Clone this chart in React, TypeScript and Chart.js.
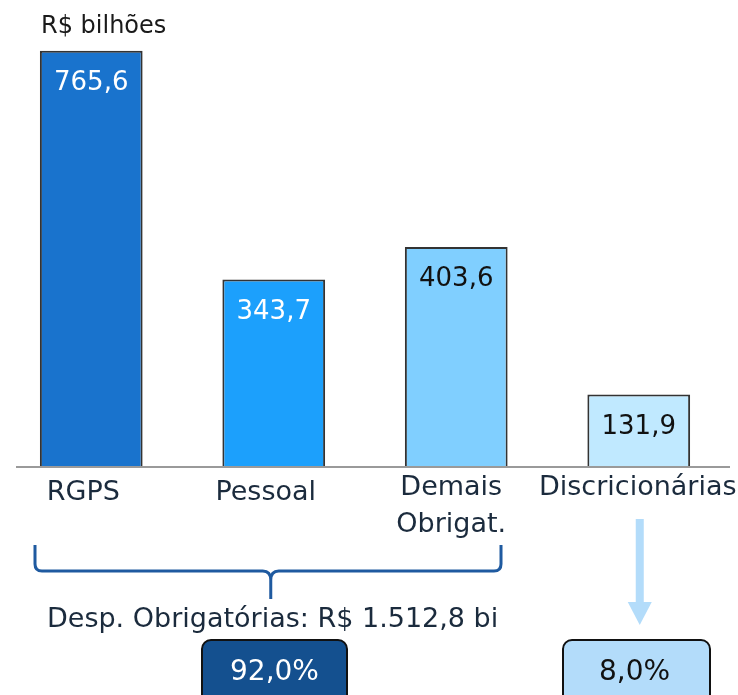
import React, { useEffect, useRef } from "react";
import { Chart, registerables } from "chart.js";

Chart.register(...registerables);

const categories = ["RGPS", "Pessoal", "Demais Obrigat.", "Discricionárias"];
const categoryLines = [["RGPS"], ["Pessoal"], ["Demais", "Obrigat."], ["Discricionárias"]];
const values = [765.6, 343.7, 403.6, 131.9];
const valueLabels = ["765,6", "343,7", "403,6", "131,9"];
const barColors = ["#1973CD", "#1CA0FC", "#80CFFF", "#C0E9FF"];
const valueLabelColors = ["#ffffff", "#ffffff", "#111111", "#111111"];
const unitLabel = "R$ bilhões";
const groupLabel = "Desp. Obrigatórias: R$ 1.512,8 bi";
const shareLabels = ["92,0%", "8,0%"];

const FONT = "'DejaVu Sans', Verdana, sans-serif";

const overlayPlugin = {
  id: "overlay",
  afterDatasetsDraw(chart: any) {
    const ctx = chart.ctx as CanvasRenderingContext2D;
    const x = chart.scales.x;
    const y = chart.scales.y;
    const base = y.getPixelForValue(0);
    const meta = chart.getDatasetMeta(0);
    ctx.save();

    // axis baseline
    ctx.strokeStyle = "#9a9a9a";
    ctx.lineWidth = 2;
    ctx.beginPath();
    ctx.moveTo(16, base + 1);
    ctx.lineTo(730, base + 1);
    ctx.stroke();

    // value labels inside bars
    ctx.font = `26px ${FONT}`;
    ctx.textAlign = "center";
    ctx.textBaseline = "middle";
    meta.data.forEach((bar: any, i: number) => {
      ctx.fillStyle = valueLabelColors[i];
      ctx.fillText(valueLabels[i], bar.x, bar.y + 32.5);
    });

    // category labels
    ctx.fillStyle = "#1b2b3d";
    ctx.font = `27px ${FONT}`;
    ctx.textBaseline = "alphabetic";
    const offsets = [-8, -8, -5, -1];
    categoryLines.forEach((lines, i) => {
      const cx = x.getPixelForValue(i) + offsets[i];
      const startY = lines.length > 1 || i === 3 ? base + 29 : base + 34;
      lines.forEach((ln, j) => {
        ctx.fillText(ln, cx, startY + j * 36.5);
      });
    });

    // unit label
    ctx.fillStyle = "#1a1a1a";
    ctx.font = `24px ${FONT}`;
    ctx.textAlign = "left";
    ctx.fillText(unitLabel, 41, 33);

    // brace
    const bx0 = 35, bx1 = 501, by = 571, btop = 545;
    const tipX = x.getPixelForValue(1) - 3;
    ctx.strokeStyle = "#1f5aa0";
    ctx.lineWidth = 3;
    ctx.lineJoin = "round";
    ctx.beginPath();
    ctx.moveTo(bx0, btop);
    ctx.lineTo(bx0, by - 7);
    ctx.quadraticCurveTo(bx0, by, bx0 + 7, by);
    ctx.lineTo(tipX - 8, by);
    ctx.quadraticCurveTo(tipX, by, tipX, by + 9);
    ctx.lineTo(tipX, 599);
    ctx.moveTo(tipX, by + 9);
    ctx.quadraticCurveTo(tipX, by, tipX + 8, by);
    ctx.lineTo(bx1 - 7, by);
    ctx.quadraticCurveTo(bx1, by, bx1, by - 7);
    ctx.lineTo(bx1, btop);
    ctx.stroke();

    // group label
    ctx.fillStyle = "#1b2b3d";
    ctx.font = `27px ${FONT}`;
    ctx.textAlign = "left";
    ctx.fillText(groupLabel, 47, 627);

    // arrow
    const ax = x.getPixelForValue(3) + 1;
    ctx.fillStyle = "#b3dcfa";
    ctx.fillRect(ax - 4, 519, 8, 84);
    ctx.beginPath();
    ctx.moveTo(ax - 12, 602);
    ctx.lineTo(ax + 12, 602);
    ctx.lineTo(ax, 625);
    ctx.closePath();
    ctx.fill();

    // share boxes
    const boxes = [
      { x: 202, w: 145, fill: "#14508f", color: "#ffffff", tx: 274.5 },
      { x: 563, w: 147, fill: "#b3dcfa", color: "#111111", tx: 634.5 },
    ];
    boxes.forEach((b, i) => {
      ctx.beginPath();
      (ctx as any).roundRect(b.x, 640, b.w, 70, 9);
      ctx.fillStyle = b.fill;
      ctx.fill();
      ctx.strokeStyle = "#111111";
      ctx.lineWidth = 2;
      ctx.stroke();
      ctx.fillStyle = b.color;
      ctx.font = `28px ${FONT}`;
      ctx.textAlign = "center";
      ctx.textBaseline = "middle";
      ctx.fillText(shareLabels[i], b.tx, 673);
    });

    ctx.restore();
  },
};

export default function App() {
  const ref = useRef<HTMLCanvasElement | null>(null);
  useEffect(() => {
    if (!ref.current) return;
    const chart = new Chart(ref.current, {
      type: "bar",
      data: {
        labels: categories,
        datasets: [
          {
            data: values,
            backgroundColor: barColors,
            borderColor: "#333333",
            borderWidth: 2,
            barPercentage: 0.563,
            categoryPercentage: 1,
          },
        ],
      },
      options: {
        animation: false,
        responsive: false,
        maintainAspectRatio: false,
        layout: { padding: { left: 0, right: 8, top: 32, bottom: 229 } },
        plugins: { legend: { display: false }, tooltip: { enabled: false } },
        scales: {
          x: { display: false },
          y: { display: false, min: 0, max: 800 },
        },
      },
      plugins: [overlayPlugin],
    });
    return () => chart.destroy();
  }, []);
  return (
    <div style={{ position: "absolute", left: 0, top: 0, width: 738, height: 695, background: "#fff" }}>
      <canvas ref={ref} width={738} height={695} style={{ display: "block" }} />
    </div>
  );
}
